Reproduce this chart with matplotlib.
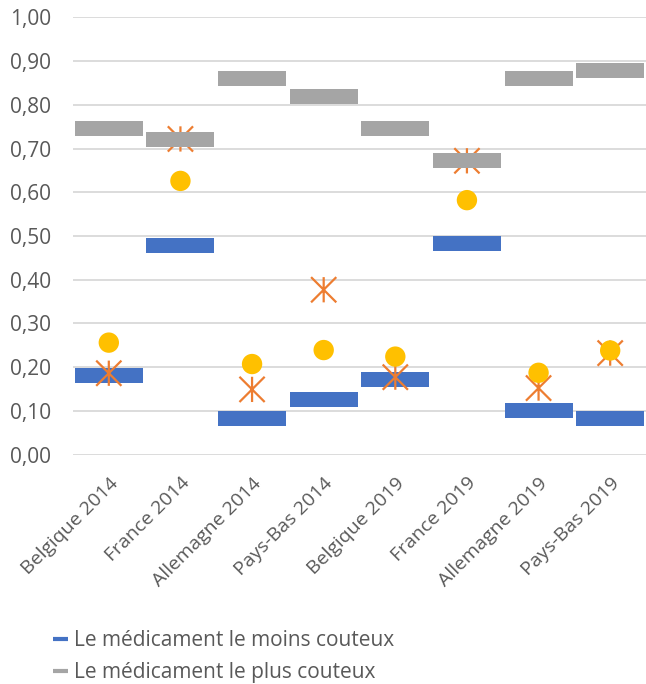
import matplotlib
matplotlib.use("Agg")
import matplotlib.pyplot as plt
import numpy as np
from matplotlib.path import Path
from matplotlib.lines import Line2D

categories = ["Belgique 2014", "France 2014", "Allemagne 2014", "Pays-Bas 2014",
              "Belgique 2019", "France 2019", "Allemagne 2019", "Pays-Bas 2019"]
moins_couteux = [0.181, 0.478, 0.082, 0.125, 0.171, 0.483, 0.100, 0.083]
plus_couteux = [0.745, 0.721, 0.860, 0.819, 0.745, 0.673, 0.861, 0.879]
ronds = [0.256, 0.626, 0.207, 0.239, 0.224, 0.582, 0.187, 0.238]
etoiles = [0.186, 0.722, 0.149, 0.377, 0.177, 0.672, 0.152, 0.232]
yticks = [0.0, 0.1, 0.2, 0.3, 0.4, 0.5, 0.6, 0.7, 0.8, 0.9, 1.0]

BLUE = "#4472C4"
GREY = "#A5A5A5"
ORANGE = "#ED7D31"
YELLOW = "#FFC000"
TEXT = "#595959"
FONT = "Open Sans"

plt.rcParams['font.family'] = [FONT, 'DejaVu Sans']

fig = plt.figure(figsize=(6.46, 6.84), dpi=100)
ax = fig.add_axes([0.113, 0.3355, 0.887, 0.639])

x = np.arange(len(categories))
thick = 0.034

# star marker: X plus vertical line
star = Path([(-1, -1), (1, 1), (-1, 1), (1, -1), (0, -1), (0, 1)],
            [Path.MOVETO, Path.LINETO, Path.MOVETO, Path.LINETO, Path.MOVETO, Path.LINETO])

ax.bar(x, thick, bottom=np.array(moins_couteux) - thick / 2, width=0.95,
       color=BLUE, zorder=2)
ax.scatter(x, etoiles, marker=star, s=330, facecolors='none', edgecolors=ORANGE,
           linewidths=1.6, zorder=3)
ax.scatter(x, ronds, marker='o', s=215, color=YELLOW, edgecolors='none', zorder=4)
ax.bar(x, thick, bottom=np.array(plus_couteux) - thick / 2, width=0.95,
       color=GREY, zorder=5)

ax.set_xlim(-0.5, len(categories) - 0.5)
ax.set_ylim(0, 1.0)
ax.set_yticks(yticks)
ax.set_yticklabels([f"{v:.2f}".replace(".", ",") for v in yticks],
                   fontsize=15, color=TEXT)
ax.set_xticks(x)
ax.set_xticklabels(categories, rotation=45, ha='right', rotation_mode='anchor',
                   fontsize=14, color=TEXT)
ax.tick_params(axis='both', length=0)
ax.tick_params(axis='y', pad=16)
ax.tick_params(axis='x', pad=14)
ax.grid(axis='y', color="#D9D9D9", linewidth=1.3, zorder=0)
ax.set_axisbelow(True)
for s in ax.spines.values():
    s.set_visible(False)

handles = [Line2D([0], [0], color=BLUE, linewidth=3, solid_capstyle='butt'),
           Line2D([0], [0], color=GREY, linewidth=3, solid_capstyle='butt')]
fig.legend(handles, ["Le médicament le moins couteux", "Le médicament le plus couteux"],
           loc='upper left', bbox_to_anchor=(0.082, 0.079), frameon=False,
           fontsize=15, labelcolor=TEXT, handlelength=0.7, handletextpad=0.3,
           labelspacing=0.55, borderaxespad=0, borderpad=0)

fig.savefig("out.png", dpi=100, facecolor='white')
